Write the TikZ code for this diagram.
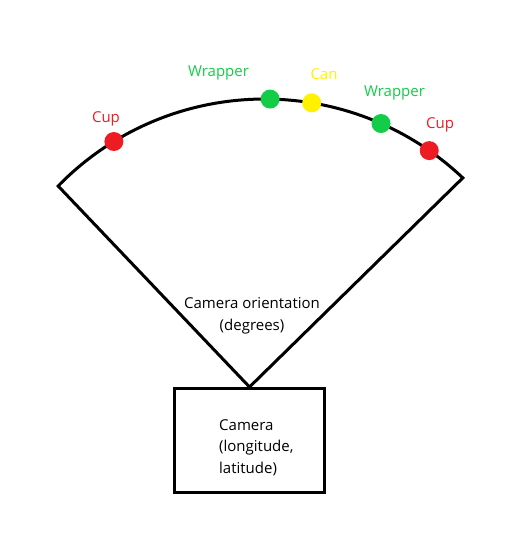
\documentclass[tikz,border=0pt]{standalone}
\usepackage{fontspec}
\setmainfont{Open Sans}
\usetikzlibrary{calc}
\definecolor{cupred}{HTML}{ED1C24}
\definecolor{wrapgreen}{HTML}{13CC48}
\definecolor{canyellow}{HTML}{FFF200}

\begin{document}
\begin{tikzpicture}[x=1pt, y=-1pt,
		font=\fontsize{15}{21.5}\selectfont,
		dot/.style={circle, inner sep=0pt, minimum size=19pt},
		tag/.style={anchor=base, inner sep=0pt},
		edge/.style={line width=3pt, line join=miter}]
		\useasboundingbox (0,0) rectangle (504,537);
		\coordinate (ctr) at (264.6,387.5);
		\coordinate (arcL) at ($(ctr)+(-135.7:288.5)$);
		\node at (249.5,440.5) (cam) [draw, line width=3pt, minimum width=150pt, minimum height=104pt] {};
		\node at (219,473) (camtxt) [anchor=base west, align=left, inner sep=0pt] {Camera\\(longitude,\\latitude)};
		\draw[edge] (cam.north) -- (arcL) arc[start angle=-135.7, end angle=-46.6, radius=288.5] -- cycle;
		\node at (252,308) (orient) [tag] {Camera orientation};
		\node at (252,330) (unit) [tag] {(degrees)};
		\node at ($(ctr)+(-121.5:288.5)$) (cup1) [dot, fill=cupred] {};
		\node at ($(ctr)+(-88.9:288.5)$) (wrap1) [dot, fill=wrapgreen] {};
		\node at ($(ctr)+(-80.6:288.5)$) (can) [dot, fill=canyellow] {};
		\node at ($(ctr)+(-66.2:288.5)$) (wrap2) [dot, fill=wrapgreen] {};
		\node at ($(ctr)+(-55.2:288.5)$) (cup2) [dot, fill=cupred] {};
		\node at (106,123) (cup1lbl) [tag, text=cupred] {Cup};
		\node at (218.5,77) (wrap1lbl) [tag, text=wrapgreen] {Wrapper};
		\node at (324,80) (canlbl) [tag, text=canyellow] {Can};
		\node at (394.5,97) (wrap2lbl) [tag, text=wrapgreen] {Wrapper};
		\node at (440,129) (cup2lbl) [tag, text=cupred] {Cup};
\end{tikzpicture}
\end{document}
